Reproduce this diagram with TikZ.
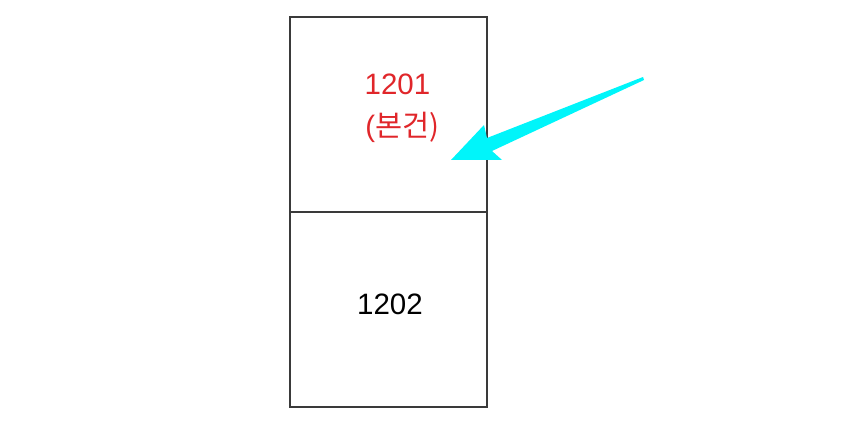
\documentclass[tikz,border=0pt]{standalone}
\usepackage{fontspec}
\setmainfont{Liberation Sans}
\newfontfamily\kofont{Noto Sans CJK KR}
\usepackage{xcolor}
\usetikzlibrary{calc, positioning}
\definecolor{unitred}{HTML}{E0262A}
\definecolor{pointcyan}{HTML}{00F5FA}
\definecolor{wallgray}{HTML}{3A3A3A}

\begin{document}
\begin{tikzpicture}[x=1pt, y=-1pt,
        unit/.style={draw=wallgray, line width=1.4pt, minimum width=197pt, minimum height=195pt, inner sep=0pt},
        label/.style={font=\fontsize{29.5}{32}\selectfont, inner sep=0pt}]
    \useasboundingbox (0, 0) rectangle (841, 425);
    \node[unit] (upper) at (388.5, 114.5) {};
    \node[unit] (lower) at (388.5, 309.5) {};
    \node[label, text=unitred] (num1201) at (397.5, 84) {1201};
    \node[label, text=unitred] (tag1201) at (402.5, 127) {(\kofont 본건)};
    \node[label] (num1202) at (390, 304) {1202};
    \coordinate (tail) at (643, 77);
    \coordinate (tip) at (451, 160);
    \fill[pointcyan] (tail) -- (487, 138) -- (484, 125) -- (tip) -- (502, 160) -- (492, 151) -- (644, 80) -- cycle;
\end{tikzpicture}
\end{document}
